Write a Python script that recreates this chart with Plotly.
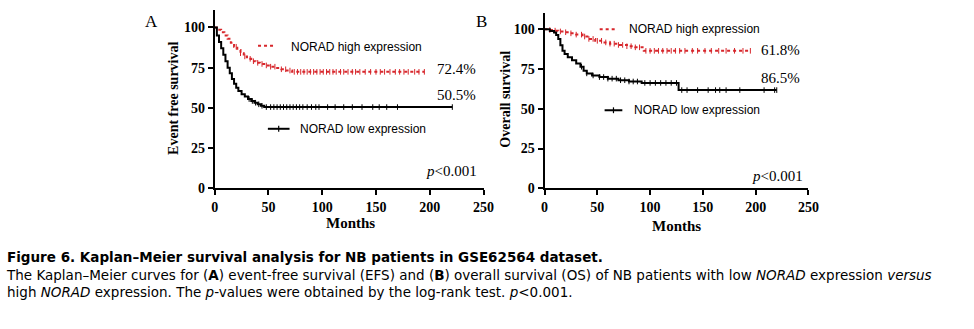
import plotly.graph_objects as go
import numpy as np

# ---- Kaplan-Meier step data (months, % surviving) ----
# Panel A: event-free survival
efs_high_t = [0, 3, 6, 9, 12, 15, 18, 21, 24, 27, 30, 34, 38, 42, 47, 52, 57, 62, 67, 72]
efs_high_s = [100, 98.5, 97, 95, 93, 90.5, 88, 86, 84, 82, 80.5, 79, 78, 77.3, 76.4, 75.6, 74.8, 74, 73.2, 72.4]
efs_high_end = 195
efs_high_cens = [20, 24, 28, 33, 36, 40, 44, 48, 52, 56, 62, 66, 70, 74, 77, 80, 83, 86, 89, 92, 95, 98,
                 101, 104, 107, 110, 113, 117, 120, 124, 128, 131, 135, 140, 145, 150, 154, 158, 163,
                 168, 172, 176, 180, 186, 190, 195]

efs_low_t = [0, 2, 4, 6, 8, 10, 12, 14, 16, 18, 20, 22, 25, 28, 31, 34, 37, 40, 43, 46]
efs_low_s = [100, 95, 91, 87, 83, 79, 75, 71.5, 68, 65, 62.5, 60.5, 58.5, 57, 55.5, 54.3, 53.2, 52.2, 51.3, 50.5]
efs_low_end = 221
efs_low_cens = [32, 35, 38, 41, 44, 48, 52, 55, 58, 61, 64, 67, 70, 73, 76, 79, 82, 86, 90, 94, 97,
                105, 112, 120, 128, 137, 147, 153, 160, 170, 221]

# Panel B: overall survival
os_high_t = [0, 4, 8, 13, 18, 24, 30, 36, 42, 48, 55, 62, 70, 78, 86, 94]
os_high_s = [100, 99.6, 99.2, 98.7, 98.2, 97.5, 96.7, 95.5, 94, 92.8, 91.8, 91, 90.2, 89.4, 88.7, 86.5]
os_high_end = 195
os_high_cens = [5, 10, 15, 20, 25, 30, 35, 38, 42, 46, 50, 54, 58, 62, 66, 70, 74, 78, 82, 86, 90, 96,
                100, 104, 108, 112, 116, 120, 124, 128, 133, 140, 145, 152, 158, 165, 172, 180, 188, 195]

os_low_t = [0, 5, 9, 11, 13, 15, 17, 19, 22, 26, 30, 34, 37, 40, 45, 52, 60, 70, 80, 92, 127]
os_low_s = [100, 99, 98, 96.5, 94, 90, 86.5, 84.5, 82.5, 80.5, 78.5, 76.5, 74, 72.3, 71, 70, 69, 68, 67.2, 66.3, 61.8]
os_low_end = 220
os_low_cens = [35, 40, 46, 52, 56, 60, 64, 68, 72, 76, 80, 84, 88, 95, 100, 105, 110, 115, 120, 125,
               130, 135, 145, 155, 162, 166, 172, 185, 208, 218, 220]

x_ticks = [0, 50, 100, 150, 200, 250]
y_ticks = [0, 25, 50, 75, 100]

RED = "#d7262b"
BLACK = "#000000"
SERIF = "Liberation Serif"
SANS = "Liberation Sans"


def step_at(t_list, s_list, t):
    idx = np.searchsorted(np.array(t_list), t, side="right") - 1
    return s_list[max(idx, 0)]


fig = go.Figure()


def add_curve(t, s, end, cens, color, dash, xa, ya):
    xs = list(t) + [end]
    ys = list(s) + [s[-1]]
    fig.add_trace(go.Scatter(x=xs, y=ys, mode="lines", line_shape="hv",
                             line=dict(color=color, width=2, dash=dash),
                             xaxis=xa, yaxis=ya, hoverinfo="skip"))
    cy = [step_at(t, s, c) for c in cens]
    fig.add_trace(go.Scatter(x=cens, y=cy, mode="markers",
                             marker=dict(symbol="line-ns", size=4,
                                         line=dict(color=color, width=1)),
                             xaxis=xa, yaxis=ya, hoverinfo="skip"))


add_curve(efs_high_t, efs_high_s, efs_high_end, efs_high_cens, RED, "dot", "x", "y")
add_curve(efs_low_t, efs_low_s, efs_low_end, efs_low_cens, BLACK, "solid", "x", "y")
add_curve(os_high_t, os_high_s, os_high_end, os_high_cens, RED, "dot", "x2", "y2")
add_curve(os_low_t, os_low_s, os_low_end, os_low_cens, BLACK, "solid", "x2", "y2")

W, H = 974, 329


def px(v):
    return v / W


def py(v):
    return 1 - v / H


axis_common = dict(showgrid=False, zeroline=False, showline=True, linecolor="black", linewidth=2,
                   ticks="outside", ticklen=5, tickwidth=2, tickcolor="black",
                   tickfont=dict(family=SERIF, size=14, color="black", weight="bold"))

fig.update_layout(
    width=W, height=H, margin=dict(l=0, r=0, t=0, b=0),
    paper_bgcolor="white", plot_bgcolor="white", showlegend=False,
    xaxis=dict(domain=[px(214), px(487)], range=[0, 250], tickvals=x_ticks, anchor="y", **axis_common),
    yaxis=dict(domain=[py(193), py(10)], range=[0, 111], tickvals=y_ticks, anchor="x", **axis_common),
    xaxis2=dict(domain=[px(549), px(817)], range=[0, 250], tickvals=x_ticks, anchor="y2", **axis_common),
    yaxis2=dict(domain=[py(193), py(13)], range=[0, 110.5], tickvals=y_ticks, anchor="x2", **axis_common),
)

ann = []


def text(x, y, s, size, family=SERIF, xanchor="center", color="black", angle=0, align="center"):
    ann.append(dict(x=px(x), y=py(y), xref="paper", yref="paper", text=s, showarrow=False,
                    xanchor=xanchor, yanchor="middle", textangle=angle, align=align,
                    font=dict(family=family, size=size, color=color)))


# panel letters
text(150, 22, "A", 17)
text(485, 22, "B", 17)

# axis titles
text(172, 101, "<b>Event free survival</b>", 14, angle=-90)
text(509, 102, "<b>Overall survival</b>", 14, angle=-90)
text(352, 229, "<b>Months</b>", 15)
text(683, 232, "<b>Months</b>", 15)

# end-of-curve labels
text(438, 71, "72.4%", 15, xanchor="left")
text(438, 97, "50.5%", 15, xanchor="left")
text(767, 51, "61.8%", 15, xanchor="left")
text(767, 80, "86.5%", 15, xanchor="left")

# p values
text(427, 175, "<i>p</i><0.001", 15, xanchor="left")
text(758, 180, "<i>p</i><0.001", 15, xanchor="left")

# legends
text(289, 48, "NORAD high expression", 12, family=SANS, xanchor="left")
text(299, 132, "NORAD low expression", 12, family=SANS, xanchor="left")
text(633, 30, "NORAD high expression", 12, family=SANS, xanchor="left")
text(638, 113, "NORAD low expression", 12, family=SANS, xanchor="left")

# caption
CAP = "DejaVu Sans"
caption = ("<b>Figure 6. Kaplan–Meier survival analysis for NB patients in GSE62564 dataset.</b><br>"
           "The Kaplan–Meier curves for (<b>A</b>) event-free survival (EFS) and (<b>B</b>) overall survival (OS) "
           "of NB patients with low <i>NORAD</i> expression <i>versus</i><br>"
           "high <i>NORAD</i> expression. The <i>p</i>-values were obtained by the log-rank test. <i>p</i><0.001.")
text(0, 281, caption, 13.5, family=CAP, xanchor="left", align="left")

fig.update_layout(annotations=ann)

# legend keys
shapes = []


def seg(x0, x1, y, color, dash, width=2):
    shapes.append(dict(type="line", xref="paper", yref="paper", x0=px(x0), x1=px(x1), y0=py(y), y1=py(y),
                       line=dict(color=color, width=width, dash=dash)))


seg(258, 276, 47, RED, "dot")
seg(268, 290, 132, BLACK, "solid")
shapes.append(dict(type="line", xref="paper", yref="paper", x0=px(279), x1=px(279), y0=py(129), y1=py(135),
                   line=dict(color=BLACK, width=1.2)))
seg(605, 621, 30, RED, "dot")
seg(610, 628, 113, BLACK, "solid")
shapes.append(dict(type="line", xref="paper", yref="paper", x0=px(619), x1=px(619), y0=py(110), y1=py(116),
                   line=dict(color=BLACK, width=1.2)))
fig.update_layout(shapes=shapes)

fig.write_html("out.html")
